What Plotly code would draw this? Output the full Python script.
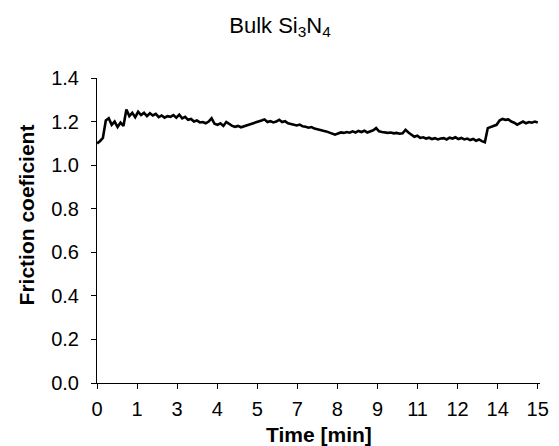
import plotly.graph_objects as go

# Time in minutes (axis units; last tick = 15)
time_min = [round(i * 0.1, 1) for i in range(151)]

friction = [
    1.100, 1.110, 1.125, 1.205, 1.215, 1.185, 1.200, 1.175, 1.195, 1.180,
    1.255, 1.225, 1.240, 1.220, 1.245, 1.230, 1.240, 1.225, 1.238, 1.228,
    1.235, 1.220, 1.228, 1.218, 1.225, 1.222, 1.230, 1.218, 1.232, 1.215,
    1.222, 1.208, 1.212, 1.200, 1.205, 1.196, 1.198, 1.192, 1.200, 1.215,
    1.190, 1.185, 1.192, 1.180, 1.198, 1.188, 1.180, 1.176, 1.180, 1.174,
    1.178, 1.182, 1.186, 1.190, 1.196, 1.200, 1.205, 1.210, 1.198, 1.202,
    1.196, 1.200, 1.208, 1.198, 1.202, 1.192, 1.188, 1.185, 1.182, 1.186,
    1.178, 1.176, 1.172, 1.175, 1.168, 1.165, 1.160, 1.158, 1.155, 1.150,
    1.146, 1.140, 1.145, 1.150, 1.148, 1.152, 1.149, 1.155, 1.150, 1.157,
    1.152, 1.158, 1.150, 1.156, 1.160, 1.170, 1.155, 1.152, 1.150, 1.148,
    1.150, 1.146, 1.148, 1.144, 1.146, 1.162, 1.150, 1.138, 1.130, 1.135,
    1.125, 1.128, 1.122, 1.126, 1.120, 1.124, 1.118, 1.122, 1.124, 1.118,
    1.126, 1.122, 1.128, 1.120, 1.125, 1.118, 1.122, 1.115, 1.120, 1.112,
    1.118, 1.110, 1.105, 1.170, 1.175, 1.178, 1.185, 1.205, 1.212, 1.208,
    1.210, 1.200, 1.195, 1.186, 1.195, 1.200, 1.192, 1.198, 1.195, 1.200,
    1.196,
]

x_tick_labels = ["0", "1", "3", "4", "5", "7", "8", "9", "11", "12", "14", "15"]
x_tick_vals = [i * 15 / 11 for i in range(len(x_tick_labels))]
y_tick_vals = [0.0, 0.2, 0.4, 0.6, 0.8, 1.0, 1.2, 1.4]

FONT = "Arial, Liberation Sans, sans-serif"

fig = go.Figure()
fig.add_trace(go.Scatter(
    x=time_min, y=friction, mode="lines",
    line=dict(color="black", width=2.6),
    showlegend=False, hoverinfo="skip",
))

fig.update_layout(
    width=559, height=446,
    margin=dict(l=97, r=10, t=78, b=63),
    paper_bgcolor="white", plot_bgcolor="white",
    font=dict(family=FONT, size=20, color="black"),
    title=dict(
        text="Bulk Si<sub>3</sub>N<sub>4</sub>",
        x=280 / 559, xanchor="center",
        y=1 - 25 / 446, yanchor="middle",
        font=dict(family=FONT, size=22, color="black"),
    ),
    xaxis=dict(
        range=[0, 15.077],
        tickmode="array", tickvals=x_tick_vals, ticktext=x_tick_labels,
        ticks="outside", ticklen=5, tickwidth=1, tickcolor="black",
        showline=True, linecolor="black", linewidth=1,
        showgrid=False, zeroline=False,
        ticklabelstandoff=3,
        tickfont=dict(family=FONT, size=20, color="black"),
    ),
    yaxis=dict(
        range=[0, 1.4],
        tickmode="array", tickvals=y_tick_vals,
        ticktext=[f"{v:.1f}" for v in y_tick_vals],
        ticks="outside", ticklen=5, tickwidth=1, tickcolor="black",
        showline=True, linecolor="black", linewidth=1,
        showgrid=False, zeroline=False,
        ticklabelstandoff=8,
        tickfont=dict(family=FONT, size=20, color="black"),
    ),
    annotations=[
        dict(text="<b>Time [min]</b>", xref="paper", yref="paper",
             x=0.5, y=(383 - 434) / 305, xanchor="center", yanchor="middle",
             showarrow=False, font=dict(family=FONT, size=21, color="black")),
        dict(text="<b>Friction coeficient</b>", xref="paper", yref="paper",
             x=(25 - 97) / 452, y=(383 - 215) / 305, xanchor="center", yanchor="middle",
             textangle=-90, showarrow=False,
             font=dict(family=FONT, size=21, color="black")),
    ],
)

fig.write_html("out.html")
